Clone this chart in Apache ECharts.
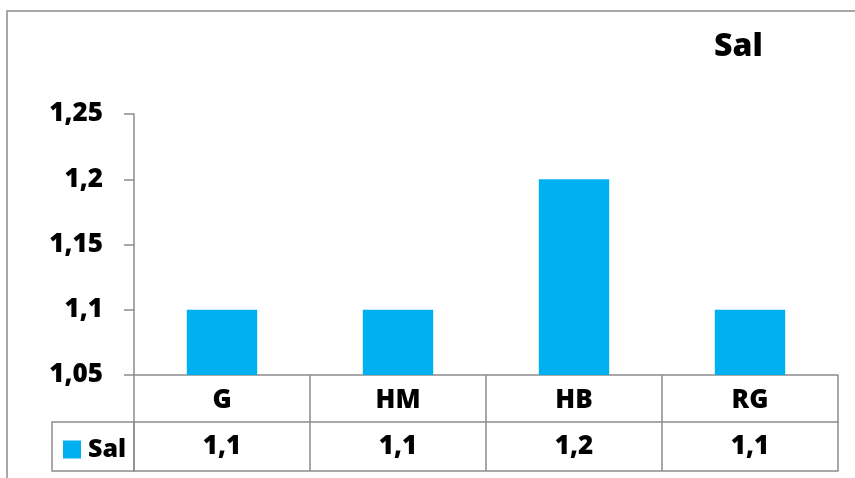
<!DOCTYPE html>
<html>
<head>
<meta charset="utf-8">
<script src="https://cdn.jsdelivr.net/npm/echarts@6/dist/echarts.min.js"></script>
<style>html,body{margin:0;padding:0;background:#fff}#c{width:855px;height:478px}</style>
</head>
<body>
<div id="c"></div>
<script>
const categories = ['G', 'HM', 'HB', 'RG'];
const salValues = [1.1, 1.1, 1.2, 1.1];
const seriesName = 'Sal';
const yMin = 1.05, yMax = 1.25, yStep = 0.05;

function fmt(v) {
  let s = (Math.round(v * 100) / 100).toFixed(2).replace(/0+$/, '').replace(/\.$/, '');
  return s.replace('.', ',');
}
const valueLabels = salValues.map(fmt);

const FONT = 'Open Sans';
const W = 800;
const LINE = '#8c8c8c';
const chart = echarts.init(document.getElementById('c'));
chart.setOption({
  animation: false,
  backgroundColor: '#fff',
  title: {
    text: seriesName, left: 714, top: 31, padding: 0,
    textStyle: { fontFamily: FONT, fontSize: 32, fontWeight: W, color: '#000' }
  },
  legend: {
    data: [seriesName], left: 63, top: 437, padding: 0,
    icon: 'rect', itemWidth: 18, itemHeight: 18,
    textStyle: { fontFamily: FONT, fontSize: 25, fontWeight: W, color: '#000', padding: [0, 0, 0, 2] }
  },
  grid: { left: 134, right: 17, top: 114, bottom: 103, containLabel: false },
  xAxis: [
    {
      type: 'category', data: categories, position: 'bottom',
      axisLine: { show: true, lineStyle: { color: LINE, width: 1.5 } },
      axisTick: { show: true, length: 96, interval: 0, alignWithLabel: false, lineStyle: { color: LINE, width: 1.5 } },
      axisLabel: { fontFamily: FONT, fontSize: 26, fontWeight: W, color: '#000', margin: 13, interval: 0 }
    },
    {
      type: 'category', data: valueLabels, position: 'bottom', offset: 47,
      axisLine: { show: true, lineStyle: { color: LINE, width: 1.5 } },
      axisTick: { show: false },
      axisLabel: { fontFamily: FONT, fontSize: 26, fontWeight: W, color: '#000', margin: 12, interval: 0 }
    },
    {
      type: 'category', data: categories, position: 'bottom', offset: 96,
      axisLine: { show: true, lineStyle: { color: LINE, width: 1.5 } },
      axisTick: { show: false }, axisLabel: { show: false }
    }
  ],
  yAxis: {
    type: 'value', min: yMin, max: yMax, interval: yStep,
    axisLine: { show: true, lineStyle: { color: LINE, width: 1.5 } },
    axisTick: { show: true, length: 10, lineStyle: { color: LINE, width: 1.5 } },
    splitLine: { show: false },
    axisLabel: { formatter: fmt, fontFamily: FONT, fontSize: 26, fontWeight: W, color: '#000', margin: 31 }
  },
  graphic: [
    { type: 'rect', silent: true, shape: { x: 52, y: 422, width: 82, height: 49 },
      style: { fill: 'none', stroke: LINE, lineWidth: 1.5 } },
    { type: 'rect', silent: true, shape: { x: 7, y: 11, width: 1000, height: 1000 },
      style: { fill: 'none', stroke: LINE, lineWidth: 1.5 } }
  ],
  series: [{
    name: seriesName, type: 'bar', data: salValues, xAxisIndex: 0,
    barWidth: '40%', itemStyle: { color: '#00B0F0' }
  }]
});
</script>
</body>
</html>
